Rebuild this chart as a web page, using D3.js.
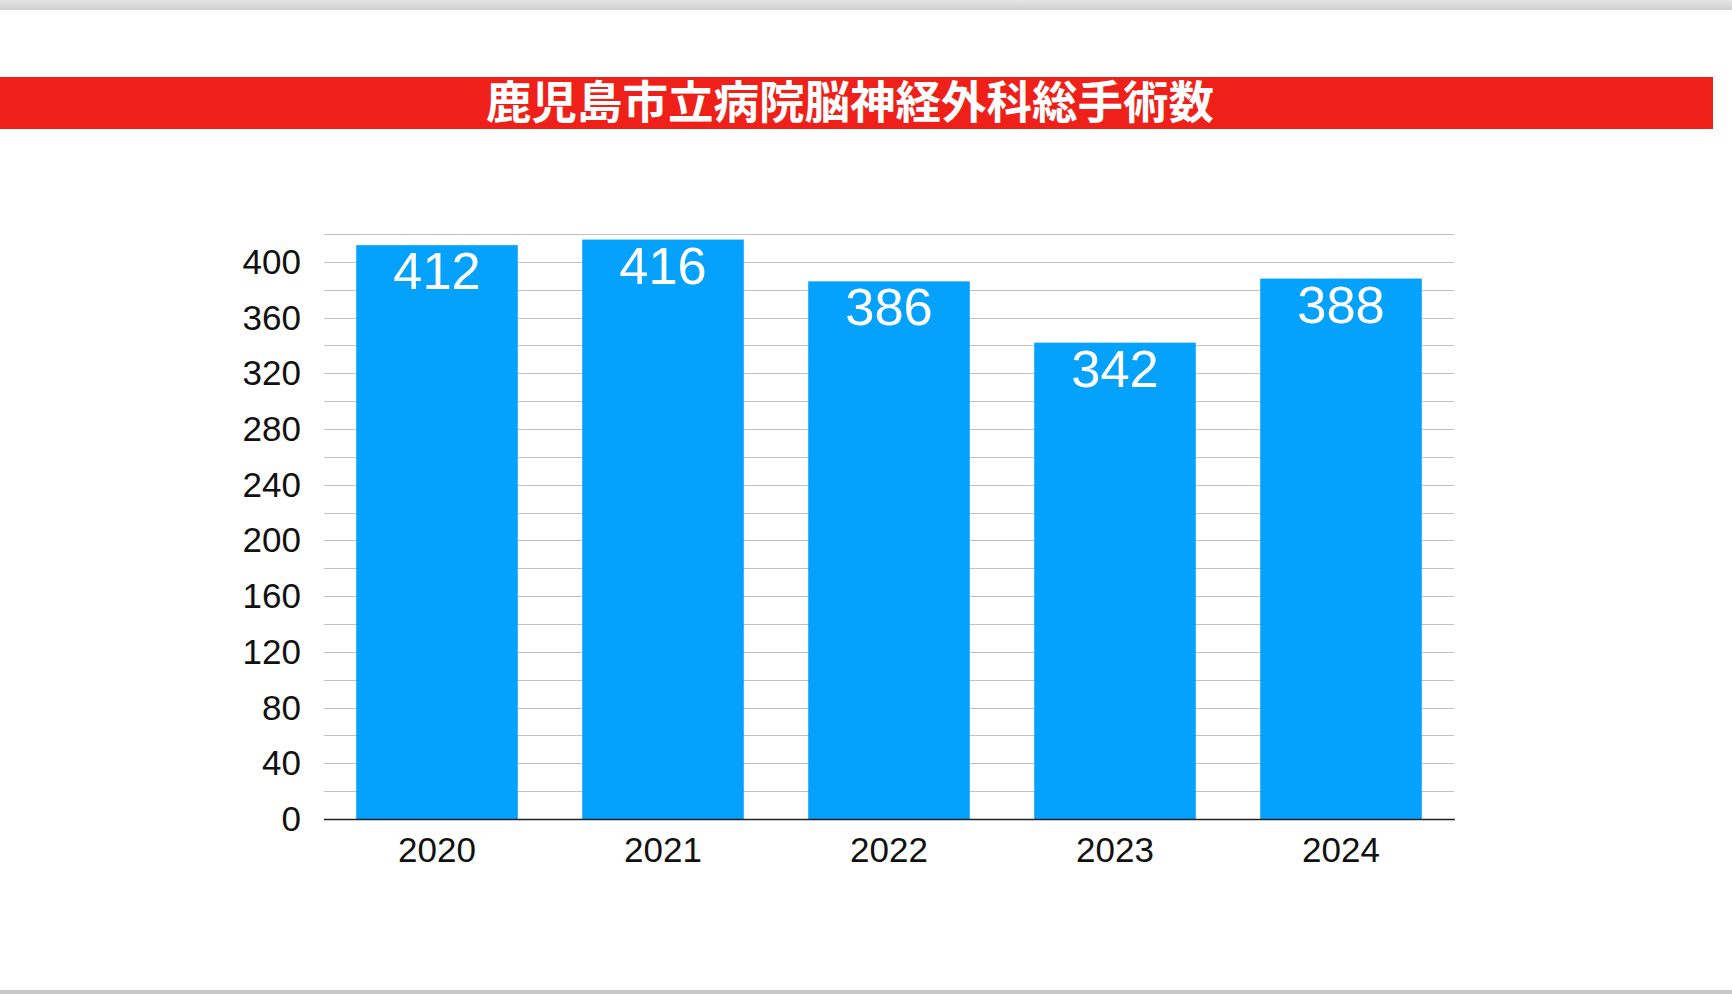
<!DOCTYPE html>
<html>
<head>
<meta charset="utf-8">
<script src="https://cdn.jsdelivr.net/npm/d3@7"></script>
<style>
  html, body { margin: 0; padding: 0; background: #fff; }
  svg { display: block; }
</style>
</head>
<body>
<div class="canvas"></div>
<script>
const title = '鹿児島市立病院脳神経外科総手術数';
const years = ['2020', '2021', '2022', '2023', '2024'];
const counts = [412, 416, 386, 342, 388];
const yTicks = [0, 40, 80, 120, 160, 200, 240, 280, 320, 360, 400];
const yMinorTicks = [20, 60, 100, 140, 180, 220, 260, 300, 340, 380, 420];

const width = 1732;
const height = 994;
const margin = {top: 234, right: 278, bottom: 175, left: 324};
const graphWidth = width - margin.left - margin.right;
const graphHeight = height - margin.top - margin.bottom;
const titleFont = '"Noto Sans CJK JP", "Noto Sans", sans-serif';
const numFont = '"Liberation Sans", Arial, sans-serif';

const svg = d3.select('.canvas')
  .append('svg')
  .attr('width', width)
  .attr('height', height);

// window chrome bands top and bottom
const defs = svg.append('defs');
const grad = defs.append('linearGradient')
  .attr('id', 'topband')
  .attr('x1', 0).attr('y1', 0).attr('x2', 0).attr('y2', 1);
grad.append('stop').attr('offset', '0%').attr('stop-color', '#e4e5e4');
grad.append('stop').attr('offset', '100%').attr('stop-color', '#cfd0cf');
svg.append('rect')
  .attr('x', 0).attr('y', 0)
  .attr('width', width).attr('height', 10)
  .attr('fill', 'url(#topband)');
svg.append('rect')
  .attr('x', 0).attr('y', 990)
  .attr('width', width).attr('height', 4)
  .attr('fill', '#c8c8c8');

// title banner
svg.append('rect')
  .attr('x', 0).attr('y', 77)
  .attr('width', 1713).attr('height', 52)
  .attr('fill', '#ee2019');
svg.append('text')
  .attr('x', 850)
  .attr('y', 103)
  .attr('dy', '0.36em')
  .attr('text-anchor', 'middle')
  .attr('fill', '#fff')
  .style('font-family', titleFont)
  .style('font-weight', 700)
  .style('font-size', '45.5px')
  .text(title);

const graph = svg.append('g')
  .attr('transform', `translate(${margin.left}, ${margin.top})`);

const y = d3.scaleLinear()
  .domain([0, 420])
  .range([graphHeight, 0]);

const x = d3.scaleBand()
  .domain(years)
  .range([0, graphWidth])
  .paddingInner(0.285)
  .paddingOuter(0.1425);

// gridlines
graph.append('g')
  .selectAll('line')
  .data(yTicks.concat(yMinorTicks).filter(d => d > 0))
  .enter()
  .append('line')
  .attr('x1', 0)
  .attr('x2', graphWidth)
  .attr('y1', d => Math.round(y(d)) + 0.5)
  .attr('y2', d => Math.round(y(d)) + 0.5)
  .attr('stroke', '#c2c2c2')
  .attr('stroke-width', 1.2);

// bars
graph.selectAll('rect.bar-rect')
  .data(counts)
  .enter()
  .append('rect')
  .attr('class', 'bar-rect')
  .attr('x', (d, i) => x(years[i]))
  .attr('y', d => y(d))
  .attr('width', x.bandwidth())
  .attr('height', d => graphHeight - y(d))
  .attr('fill', '#05a2fd');

// value labels
graph.selectAll('text.val')
  .data(counts)
  .enter()
  .append('text')
  .attr('class', 'val')
  .attr('x', (d, i) => x(years[i]) + x.bandwidth() / 2)
  .attr('y', d => y(d) + 44)
  .attr('text-anchor', 'middle')
  .attr('fill', '#fff')
  .style('font-family', numFont)
  .style('font-size', '52.5px')
  .text(d => d);

// axes
const gXAxis = graph.append('g')
  .attr('transform', `translate(0, ${graphHeight})`);
const xAxis = d3.axisBottom(x).tickSize(0);
gXAxis.call(xAxis);
gXAxis.select('.domain')
  .attr('d', `M0,0.5H${graphWidth + 1}`)
  .attr('stroke', '#222')
  .attr('stroke-width', 1.5);
gXAxis.selectAll('text')
  .attr('y', 43)
  .attr('dy', 0)
  .attr('fill', '#111')
  .style('font-family', numFont)
  .style('font-size', '35px');

const gYAxis = graph.append('g');
const yAxis = d3.axisLeft(y)
  .tickValues(yTicks)
  .tickSize(0)
  .tickPadding(23)
  .tickFormat(d => d);
gYAxis.call(yAxis);
gYAxis.select('.domain').remove();
gYAxis.selectAll('text')
  .attr('dy', '0.33em')
  .attr('fill', '#111')
  .style('font-family', numFont)
  .style('font-size', '35px');
</script>
</body>
</html>
